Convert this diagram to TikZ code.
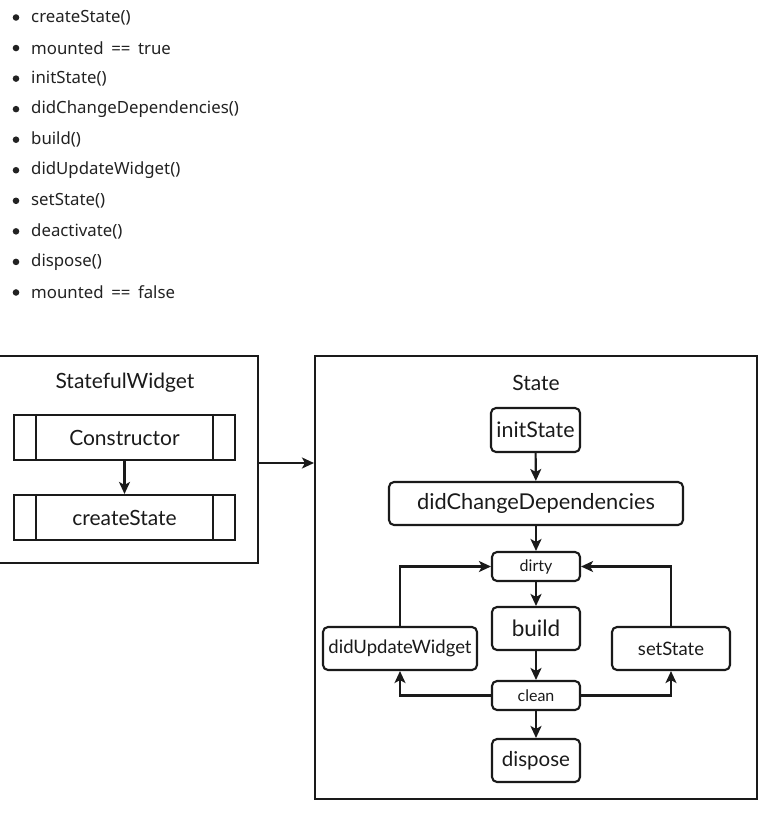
\documentclass[tikz,border=0pt]{standalone}
\usepackage{fontspec}
\setmainfont{Lato}
\newfontfamily\listfont{Noto Sans}
\usetikzlibrary{arrows.meta}
\definecolor{txt}{HTML}{222222}
\definecolor{ln}{HTML}{1A1A1A}
\newcommand{\eqsp}{\hspace{0.45em}}
\tikzset{
  box/.style={draw=ln, line width=2.1pt, inner sep=0pt, text=ln},
  rbox/.style={box, rounded corners=5pt},
  arr/.style={draw=ln, line width=2.1pt, -{Stealth[length=12pt,width=11pt,inset=3pt]}},
  item/.style={anchor=west, inner sep=0pt, text=txt, font=\listfont\fontsize{16.8}{19}\selectfont},
  ttl/.style={inner sep=0pt, text=ln, font=\fontsize{21}{23}\selectfont},
}
\begin{document}
\begin{tikzpicture}[x=1pt,y=-1pt]
\useasboundingbox (0,0) rectangle (784,814);
% list
\foreach \t [count=\i from 0] in {createState(), mounted\eqsp==\eqsp true, initState(), didChangeDependencies(), build(), didUpdateWidget(), setState(), deactivate(), dispose(), mounted\eqsp==\eqsp false}{
  \fill[txt] (16,{17.5+30.55*\i}) circle (3.3);
  \node[item] (li\i) at (31,{17.5+30.55*\i}) {\t};
}
% StatefulWidget
\node[box, minimum width=262, minimum height=207] (sw) at (127,459.5) {};
\node[ttl] (swt) at (125,383) {StatefulWidget};
\node[box, minimum width=221, minimum height=45, font=\fontsize{21}{23}\selectfont] (ctor) at (124.5,437.5) {Constructor};
\node[box, minimum width=221, minimum height=45, font=\fontsize{21}{23}\selectfont] (cs) at (124.5,517.5) {createState};
\foreach \n in {ctor,cs}{
  \draw[ln, line width=2.1pt] ([xshift=23pt]\n.north west) -- ([xshift=23pt]\n.south west);
  \draw[ln, line width=2.1pt] ([xshift=-23pt]\n.north east) -- ([xshift=-23pt]\n.south east);
}
\draw[arr] (ctor) -- (cs);
% State
\node[box, minimum width=442, minimum height=443] (st) at (536,577.5) {};
\node[ttl] (stt) at (536,383) {State};
\node[rbox, minimum width=89, minimum height=44, font=\fontsize{21.4}{23}\selectfont] (init) at (535.5,430) {initState};
\node[rbox, minimum width=294, minimum height=43, font=\fontsize{21.8}{23}\selectfont] (dcd) at (536,503.5) {didChangeDependencies};
\node[rbox, minimum width=88, minimum height=29, font=\fontsize{16}{18}\selectfont] (dirty) at (536,566.5) {dirty};
\node[rbox, minimum width=88, minimum height=43, font=\fontsize{22.5}{24}\selectfont] (build) at (536,628.5) {build};
\node[rbox, minimum width=154, minimum height=43, font=\fontsize{18.5}{20}\selectfont] (duw) at (400,648.5) {didUpdateWidget};
\node[rbox, minimum width=118, minimum height=43, font=\fontsize{18.5}{20}\selectfont] (ss) at (671,648.5) {setState};
\node[rbox, minimum width=88, minimum height=29, font=\fontsize{16}{18}\selectfont] (clean) at (536,695.5) {clean};
\node[rbox, minimum width=88, minimum height=43, font=\fontsize{20.5}{22}\selectfont] (disp) at (536,760.5) {dispose};
\draw[arr] (sw.east |- 0,463) -- (st.west |- 0,463);
\draw[arr] (init) -- (dcd);
\draw[arr] (dcd) -- (dirty);
\draw[arr] (dirty) -- (build);
\draw[arr] (build) -- (clean);
\draw[arr] (clean) -- (disp);
\draw[arr] (duw.north) |- (dirty.west);
\draw[arr] (ss.north) |- (dirty.east);
\draw[arr] (clean.west) -| (duw.south);
\draw[arr] (clean.east) -| (ss.south);
\end{tikzpicture}
\end{document}
